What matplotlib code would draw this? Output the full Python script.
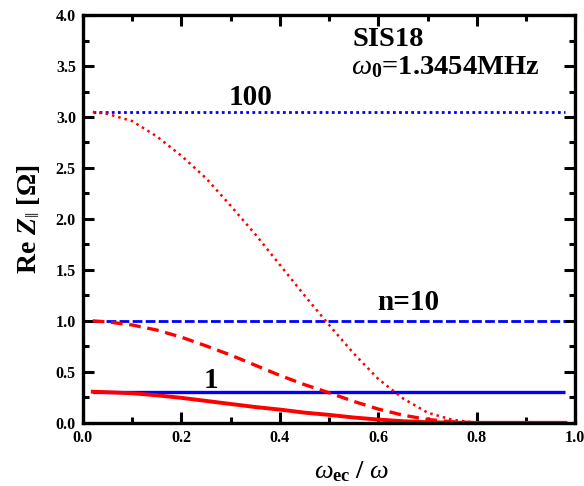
import matplotlib
matplotlib.use("Agg")
import matplotlib.pyplot as plt
from matplotlib.ticker import MultipleLocator

plt.rcParams['font.family'] = ['Liberation Serif', 'DejaVu Serif']
plt.rcParams['mathtext.fontset'] = 'custom'
plt.rcParams['mathtext.rm'] = 'Liberation Serif'
plt.rcParams['mathtext.it'] = 'Liberation Serif:italic'
plt.rcParams['mathtext.bf'] = 'Liberation Serif:bold'
plt.rcParams['mathtext.bfit'] = 'Liberation Serif:bold:italic'

# data
x = [0.02, 0.05, 0.1, 0.15, 0.2, 0.25, 0.3, 0.35, 0.4, 0.45, 0.5, 0.55,
     0.6, 0.65, 0.7, 0.75, 0.8, 0.85, 0.9, 0.95, 0.98]
red_n1 = [0.305, 0.30, 0.29, 0.27, 0.245, 0.215, 0.185, 0.155, 0.13, 0.10,
          0.078, 0.052, 0.032, 0.016, 0.006, 0.001, 0.0, 0.0, 0.0, 0.0, 0.0]
red_n10 = [1.0, 0.99, 0.96, 0.91, 0.84, 0.755, 0.665, 0.565, 0.465, 0.375,
           0.295, 0.21, 0.135, 0.075, 0.033, 0.01, 0.0, 0.0, 0.0, 0.0, 0.0]
red_n100 = [3.05, 3.03, 2.96, 2.81, 2.62, 2.40, 2.13, 1.85, 1.55, 1.25,
            0.96, 0.68, 0.43, 0.24, 0.10, 0.03, 0.0, 0.0, 0.0, 0.0, 0.0]
blue_levels = [0.305, 1.0, 3.05]
blue_x = [0.02, 0.98]

fig = plt.figure(figsize=(5.84, 4.86), dpi=100)
ax = fig.add_axes([0.142, 0.130, 0.843, 0.839])

ax.plot(blue_x, [blue_levels[0]] * 2, color='#0000ff', lw=2.4, solid_capstyle='butt')
ax.plot(blue_x, [blue_levels[1]] * 2, color='#0000ff', lw=2.0, dashes=(3.5, 1.2))
ax.plot(blue_x, [blue_levels[2]] * 2, color='#0000ff', lw=2.0, dashes=(1, 1.2))

ax.plot(x, red_n1, color='#ff0000', lw=2.8)
ax.plot(x, red_n10, color='#ff0000', lw=2.4, dashes=(3.5, 2))
ax.plot(x, red_n100, color='#ff0000', lw=1.8, dashes=(1, 1.6))

ax.set_xlim(0, 1.0)
ax.set_ylim(0, 4.0)
ax.xaxis.set_major_locator(MultipleLocator(0.2))
ax.xaxis.set_minor_locator(MultipleLocator(0.1))
ax.yaxis.set_major_locator(MultipleLocator(0.5))
ax.yaxis.set_minor_locator(MultipleLocator(0.25))
ax.tick_params(which='both', direction='in', top=True, right=True, width=2.2)
ax.tick_params(which='major', length=8)
ax.tick_params(which='minor', length=4.5)
ax.tick_params(labelsize=11.5, pad=5)
for lab in ax.get_xticklabels() + ax.get_yticklabels():
    lab.set_fontweight('bold')
for s in ax.spines.values():
    s.set_linewidth(2.4)

ax.set_ylabel(r'$\mathbf{Re}\ \mathbfit{Z}_{\|}\ \mathbf{[\Omega]}$', fontsize=20, labelpad=10)
ax.set_xlabel(r'$\omega_{\mathbf{ec}}\ \mathbf{/}\ \omega$', fontsize=19, labelpad=4)
ax.xaxis.set_label_coords(0.545, -0.09)

ax.text(0.34, 3.19, '100', fontsize=21, fontweight='bold', ha='center', va='center')
ax.text(0.66, 1.18, 'n=10', fontsize=21, fontweight='bold', ha='center', va='center')
ax.text(0.26, 0.42, '1', fontsize=21, fontweight='bold', ha='center', va='center')
ax.text(0.547, 3.76, 'SIS18', fontsize=20.5, fontweight='bold', ha='left', va='center')
ax.text(0.545, 3.49, r'$\omega_{\mathbf{0}}$=1.3454MHz', fontsize=20.5, fontweight='bold',
        ha='left', va='center')

fig.savefig('out.png', dpi=100)
